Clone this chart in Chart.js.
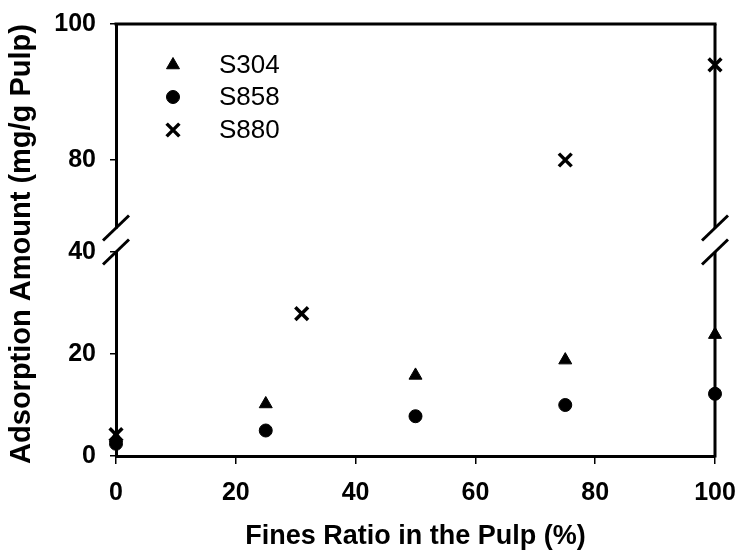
<!DOCTYPE html>
<html>
<head>
<meta charset="utf-8">
<script src="https://cdn.jsdelivr.net/npm/chart.js@4.4.1/dist/chart.umd.min.js"></script>
<style>
html,body{margin:0;padding:0;background:#fff;}
#wrap{width:740px;height:552px;}
</style>
</head>
<body>
<div id="wrap"><canvas id="c" width="740" height="552"></canvas></div>
<script>
// ---- data ----
const xTickValues = [0, 20, 40, 60, 80, 100];
const lowerTickValues = [0, 20, 40];
const upperTickValues = [80, 100];
const lowerRange = [0, 40];
const upperRange = [70, 100];
const seriesNames = ['S304', 'S858', 'S880'];
const finesS304 = [0, 25, 50, 75, 100];
const valuesS304 = [3.5, 10.2, 15.8, 18.8, 23.8];
const finesS858 = [0, 25, 50, 75, 100];
const valuesS858 = [2.4, 5.0, 7.8, 10.0, 12.2];
const finesS880 = [0, 31, 75, 100];
const valuesS880 = [4.2, 27.9, 80, 94];
const xTitle = 'Fines Ratio in the Pulp (%)';
const yTitle = 'Adsorption Amount (mg/g Pulp)';

const FONT = '"Liberation Sans", Arial, Helvetica, sans-serif';

function pts(xs, ys, keep) {
  const out = [];
  xs.forEach((x, i) => { if (keep(ys[i])) out.push({x: x, y: ys[i]}); });
  return out;
}
const inLower = v => v <= lowerRange[1];
const inUpper = v => v >= upperRange[0];

const styles = [
  {pointStyle: 'triangle', radius: 7.5, borderWidth: 1},
  {pointStyle: 'circle', radius: 6.5, borderWidth: 1},
  {pointStyle: 'crossRot', radius: 9, borderWidth: 3.5}
];

function ds(label, data, axis, st, legend) {
  return {
    label: label, data: data, yAxisID: axis, showLine: false, clip: false,
    pointStyle: st.pointStyle, pointRadius: st.radius, pointHoverRadius: st.radius,
    pointBorderWidth: st.borderWidth, pointBackgroundColor: '#000', pointBorderColor: '#000',
    backgroundColor: '#000', borderColor: '#000', _legend: legend
  };
}

const datasets = [
  ds(seriesNames[0], pts(finesS304, valuesS304, inLower), 'yLow', styles[0], true),
  ds(seriesNames[1], pts(finesS858, valuesS858, inLower), 'yLow', styles[1], true),
  ds(seriesNames[2], pts(finesS880, valuesS880, inLower), 'yLow', styles[2], true),
  ds(seriesNames[2], pts(finesS880, valuesS880, inUpper), 'yTop', styles[2], false)
];

const tickFont = {family: FONT, size: 25, weight: 'bold', lineHeight: 1};
const yGrid = {display: true, drawOnChartArea: false, drawTicks: true, tickLength: 6, color: '#000', lineWidth: 1.5};
const yBorder = {display: true, color: '#000', width: 3};

function fixedTicks(values) {
  return function (scale) { scale.ticks = values.map(v => ({value: v})); };
}
function fitY(s) { s.width = 116; s.paddingTop = 0; s.paddingBottom = 0; s.paddingLeft = 0; s.paddingRight = 0; }
function fitX(s) { s.height = 96; s.paddingLeft = 0; s.paddingRight = 0; s.paddingTop = 0; s.paddingBottom = 0; }

const framePlugin = {
  id: 'frame',
  afterDraw(chart) {
    const ctx = chart.ctx;
    const a = chart.chartArea;
    const top = chart.scales.yTop, low = chart.scales.yLow;
    const breakHi = top.bottom, breakLo = low.top;
    ctx.save();
    ctx.strokeStyle = '#000';
    ctx.lineWidth = 3;
    ctx.lineCap = 'butt';
    // top border
    ctx.beginPath();
    ctx.moveTo(a.left - 1.5, a.top); ctx.lineTo(a.right + 1.5, a.top);
    ctx.stroke();
    // right border with break
    ctx.beginPath();
    ctx.moveTo(a.right, a.top); ctx.lineTo(a.right, breakHi);
    ctx.moveTo(a.right, breakLo); ctx.lineTo(a.right, a.bottom + 1.5);
    ctx.stroke();
    // break marks
    [a.left, a.right].forEach(x => {
      [breakHi, breakLo].forEach(y => {
        ctx.beginPath();
        ctx.moveTo(x - 13, y + 12.5);
        ctx.lineTo(x + 13, y - 12.5);
        ctx.stroke();
      });
    });
    // y-axis title
    ctx.save();
    ctx.translate(22, (a.top + a.bottom) / 2 + 4);
    ctx.rotate(-Math.PI / 2);
    ctx.font = 'bold 29px ' + FONT;
    ctx.textAlign = 'center';
    ctx.textBaseline = 'middle';
    ctx.fillStyle = '#000';
    ctx.fillText(yTitle, 0, 0);
    ctx.restore();
    // legend
    const lx = a.left + 57, tx = a.left + 103;
    const ly = [65, 97, 130].map(v => v - 24 + a.top);
    ctx.font = '26px ' + FONT;
    ctx.textBaseline = 'middle';
    ctx.textAlign = 'left';
    let row = 0;
    chart.data.datasets.forEach(d => {
      if (!d._legend) return;
      const y = ly[row];
      ctx.fillStyle = '#000';
      ctx.strokeStyle = '#000';
      ctx.lineWidth = d.pointBorderWidth;
      Chart.helpers.drawPoint(ctx, {pointStyle: d.pointStyle, radius: d.pointRadius, rotation: 0, borderWidth: d.pointBorderWidth}, lx, y);
      ctx.fillStyle = '#000';
      ctx.fillText(d.label, tx, y + 1);
      row++;
    });
    ctx.restore();
  }
};

new Chart(document.getElementById('c'), {
  type: 'scatter',
  data: {datasets: datasets},
  plugins: [framePlugin],
  options: {
    responsive: false,
    devicePixelRatio: 1,
    animation: false,
    events: [],
    layout: {padding: {top: 24, right: 25, bottom: 0, left: 0}},
    plugins: {legend: {display: false}, tooltip: {enabled: false}},
    scales: {
      x: {
        type: 'linear', position: 'bottom', min: 0, max: 100,
        afterBuildTicks: fixedTicks(xTickValues),
        afterFit: fitX,
        grid: {display: true, drawOnChartArea: false, drawTicks: true, tickLength: 8, color: '#000', lineWidth: 1.5},
        border: {display: true, color: '#000', width: 3},
        ticks: {color: '#000', font: tickFont, padding: 16.5, maxRotation: 0},
        title: {display: true, text: xTitle, color: '#000', font: {family: FONT, size: 27, weight: 'bold', lineHeight: 1}, padding: {top: 0, bottom: 1.5}}
      },
      yLow: {
        type: 'linear', position: 'left', stack: 'y', stackWeight: 204,
        min: lowerRange[0], max: lowerRange[1],
        afterBuildTicks: fixedTicks(lowerTickValues),
        afterFit: fitY,
        grid: yGrid, border: yBorder,
        ticks: {color: '#000', font: tickFont, padding: 14}
      },
      yGap: {
        type: 'linear', position: 'left', stack: 'y', stackWeight: 24,
        min: 0, max: 1,
        afterFit: fitY,
        grid: {display: false}, border: {display: false},
        ticks: {display: false}
      },
      yTop: {
        type: 'linear', position: 'left', stack: 'y', stackWeight: 204,
        min: upperRange[0], max: upperRange[1],
        afterBuildTicks: fixedTicks(upperTickValues),
        afterFit: fitY,
        grid: yGrid, border: yBorder,
        ticks: {color: '#000', font: tickFont, padding: 14}
      }
    }
  }
});
</script>
</body>
</html>
